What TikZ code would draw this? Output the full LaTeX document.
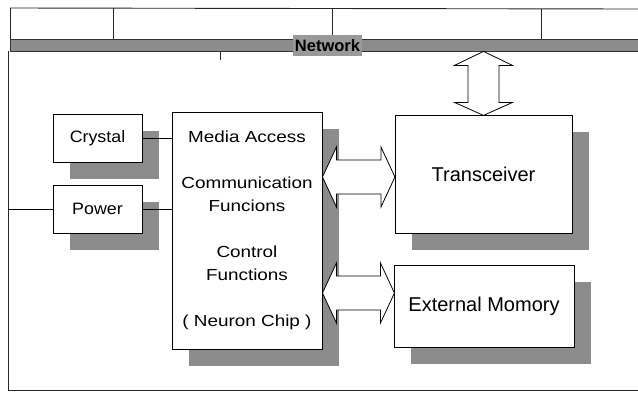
\documentclass[tikz,border=0pt]{standalone}
\usepackage{fontspec}
\setmainfont{Liberation Sans}
\newfontfamily\widefont[FakeStretch=1.18]{Liberation Sans}
\newfontfamily\midfont[FakeStretch=1.08]{Liberation Sans}
\usetikzlibrary{shadows}
\begin{document}
\begin{tikzpicture}[x=1pt,y=-1pt,
  frame/.style={line width=0.9pt,draw=black!85},
  blk/.style={draw=black,line width=0.9pt,fill=white,inner sep=0pt,
    drop shadow={shadow xshift=17pt,shadow yshift=-17pt,fill=black!45,opacity=1}},
  arrowsty/.style={draw=black,line width=0.8pt,fill=white,line join=miter},
  wire/.style={line width=0.9pt,draw=black},
  pics/hdblarrow/.style={code={
    \draw[arrowsty] (0,0) -- (14,-30) -- (14,-17) -- (#1-14,-17) -- (#1-14,-30) -- (#1,0)
      -- (#1-14,30) -- (#1-14,17) -- (14,17) -- (14,30) -- cycle;}},
  pics/vdblarrow/.style={code={
    \draw[arrowsty] (0,0) -- (29,14) -- (15.5,14) -- (15.5,#1-13) -- (29,#1-13) -- (0,#1)
      -- (-29,#1-13) -- (-15.5,#1-13) -- (-15.5,14) -- (-29,14) -- cycle;}}]
\useasboundingbox (0,0) rectangle (638,392);
% top network frame
\draw[frame] (10,8) -- (638,9);
\draw[frame] (10,8) -- (10,39);
\draw[frame] (113,8) -- (113,39);
\draw[frame] (332,9) -- (332,39);
\draw[frame] (541,9) -- (541,39);
\node[draw=black!80,fill=black!45,line width=0.8pt,minimum width=628pt,minimum height=12pt,inner sep=0pt,anchor=west] (bus) at (10,45) {};
\node[fill=black!40,inner sep=0pt,minimum width=69pt,minimum height=21pt] (netlab) at (327.5,45) {};
\node[font=\bfseries\fontsize{16.5}{18}\selectfont,inner sep=0pt] (nettxt) at (327.5,45.5) {Network};
\coordinate (tick) at (220,60);
\draw[frame] (220,51) -- (tick);
% outer frame
\coordinate (fbl) at (8,390);
\coordinate (fbr) at (638,390);
\draw[frame] (8,51) -- (fbl) -- (fbr);
% blocks
\node[blk,minimum width=89pt,minimum height=48pt,font=\midfont\fontsize{16.5}{18}\selectfont] (crystal) at (97.5,138) {Crystal};
\node[blk,minimum width=89pt,minimum height=48pt,font=\midfont\fontsize{16.5}{18}\selectfont] (power) at (97.5,209) {Power};
\node[blk,minimum width=150pt,minimum height=237pt,align=center,font=\widefont\fontsize{16}{23}\selectfont] (chip) at (247,230.5)
  {Media Access\\[23pt]Communication\\Funcions\\[23pt]Control\\Functions\\[23pt]( Neuron Chip )};
\node[blk,minimum width=177pt,minimum height=118pt,font=\fontsize{20}{22}\selectfont] (trans) at (483.5,174) {Transceiver};
\node[blk,minimum width=180pt,minimum height=82pt,font=\fontsize{20}{22}\selectfont] (mem) at (484,306) {External Momory};
% wires
\coordinate (pl) at (8,209);
\draw[wire] (pl) -- (power.west);
\draw[wire] (crystal.east) -- (chip.west |- crystal.east);
\draw[wire] (power.east) -- (chip.west |- power.east);
% double arrows
\coordinate (a1) at (chip.east |- 0,177);
\coordinate (a2) at (chip.east |- 0,293);
\coordinate (a3) at (trans.north |- bus.south);
\pic at (a1) {hdblarrow=72.5};
\pic at (a2) {hdblarrow=72};
\pic at (a3) {vdblarrow=64};
\end{tikzpicture}
\end{document}
